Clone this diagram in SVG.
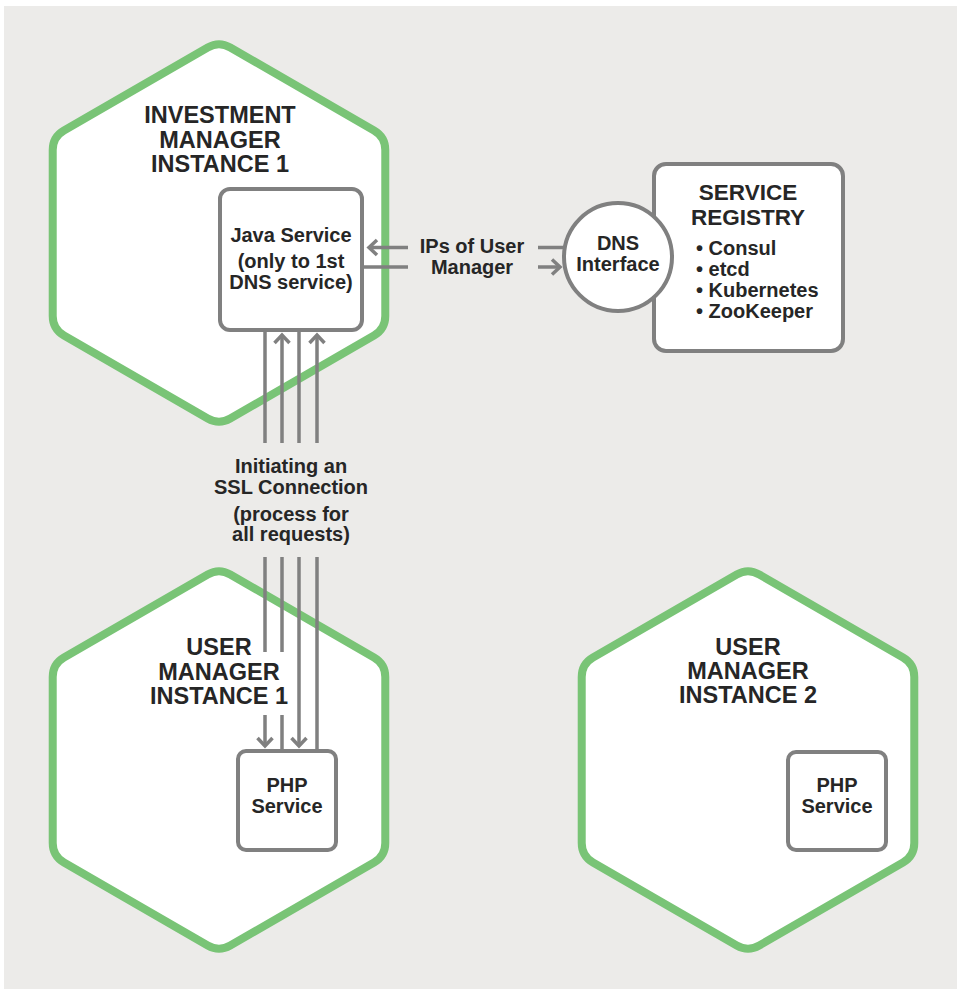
<svg xmlns="http://www.w3.org/2000/svg" width="957" height="989" viewBox="0 0 957 989">
  <style>
    .hex { fill: #ffffff; stroke: #79c476; stroke-width: 8; }
    .box { fill: #ffffff; stroke: #808080; stroke-width: 4; }
    .wire { fill: none; stroke: #808080; stroke-width: 3.5; }
    .t { font-family: "Liberation Sans", Arial, sans-serif; font-weight: bold; fill: #262626; }
    .title { font-size: 23.5px; text-anchor: middle; }
    .lbl { font-size: 20px; text-anchor: middle; }
    .item { font-size: 20px; text-anchor: start; }
  </style>
  <defs>
    <!-- pointy-top hexagon with rounded corners, centred on the origin -->
    <path id="hexShape" d="M 11.26,-185.5 L 155.02,-102.5 Q 166.28,-96 166.28,-83 L 166.28,83 Q 166.28,96 155.02,102.5 L 11.26,185.5 Q 0,192 -11.26,185.5 L -155.02,102.5 Q -166.28,96 -166.28,83 L -166.28,-83 Q -166.28,-96 -155.02,-102.5 L -11.26,-185.5 Q 0,-192 11.26,-185.5 Z"/>
    <marker id="chev" markerUnits="userSpaceOnUse" markerWidth="24" markerHeight="24" viewBox="-12 -12 24 24" refX="0" refY="0" orient="auto" overflow="visible">
      <path d="M -8,-7.5 L 0,0 L -8,7.5" fill="none" stroke="#808080" stroke-width="3.5"/>
    </marker>
  </defs>

  <!-- backdrop -->
  <rect x="4" y="6" width="953" height="983" fill="#ecebe9"/>

  <!-- hexagon instances -->
  <g id="investment-manager-1">
    <use href="#hexShape" class="hex" transform="translate(219,233)"/>
    <text class="t title" x="220" y="123">INVESTMENT</text>
    <text class="t title" x="220" y="148">MANAGER</text>
    <text class="t title" x="220" y="172">INSTANCE 1</text>
  </g>
  <g id="user-manager-1">
    <use href="#hexShape" class="hex" transform="translate(219,760)"/>
    <text class="t title" x="219" y="655">USER</text>
    <text class="t title" x="219" y="680">MANAGER</text>
    <text class="t title" x="219" y="704">INSTANCE 1</text>
  </g>
  <g id="user-manager-2">
    <use href="#hexShape" class="hex" transform="translate(748,760)"/>
    <text class="t title" x="748" y="655">USER</text>
    <text class="t title" x="748" y="679">MANAGER</text>
    <text class="t title" x="748" y="703">INSTANCE 2</text>
  </g>

  <!-- connectors -->
  <g id="connectors">
    <!-- Java service <-> DNS interface -->
    <path class="wire" d="M 572,247.5 L 538,247.5 M 408,247.5 L 369,247.5" marker-end="url(#chev)"/>
    <path class="wire" d="M 364,267 L 408,267 M 538,267 L 560,267" marker-end="url(#chev)"/>
    <!-- Java service <-> PHP service (SSL) -->
    <path class="wire" d="M 265,332 L 265,443 M 265,557 L 265,652 M 265,715 L 265,746" marker-end="url(#chev)"/>
    <path class="wire" d="M 282,749 L 282,715 M 282,652 L 282,557 M 282,443 L 282,335" marker-end="url(#chev)"/>
    <path class="wire" d="M 299,332 L 299,443 M 299,557 L 299,746" marker-end="url(#chev)"/>
    <path class="wire" d="M 317,749 L 317,557 M 317,443 L 317,335" marker-end="url(#chev)"/>
  </g>

  <!-- connector labels -->
  <g id="labels">
    <text class="t lbl" x="472" y="253">IPs of User</text>
    <text class="t lbl" x="472" y="274">Manager</text>
    <text class="t lbl" x="291" y="473">Initiating an</text>
    <text class="t lbl" x="291" y="494">SSL Connection</text>
    <text class="t lbl" x="291" y="521">(process for</text>
    <text class="t lbl" x="291" y="541">all requests)</text>
  </g>

  <g id="java-service">
    <rect class="box" x="220" y="189" width="142" height="141" rx="10"/>
    <text class="t lbl" x="291" y="242">Java Service</text>
    <text class="t lbl" x="291" y="268">(only to 1st</text>
    <text class="t lbl" x="291" y="289">DNS service)</text>
  </g>

  <g id="php-service-1">
    <rect class="box" x="238" y="751" width="98" height="99" rx="8"/>
    <text class="t lbl" x="287" y="792">PHP</text>
    <text class="t lbl" x="287" y="813">Service</text>
  </g>

  <g id="php-service-2">
    <rect class="box" x="788" y="752" width="98" height="98" rx="8"/>
    <text class="t lbl" x="837" y="792">PHP</text>
    <text class="t lbl" x="837" y="813">Service</text>
  </g>

  <g id="service-registry">
    <rect class="box" x="654" y="164" width="189" height="187" rx="12"/>
    <text class="t title" x="748" y="200" style="font-size:22.5px">SERVICE</text>
    <text class="t title" x="748" y="225" style="font-size:22.5px">REGISTRY</text>
    <text class="t item" x="696" y="255">• Consul</text>
    <text class="t item" x="696" y="276">• etcd</text>
    <text class="t item" x="696" y="297">• Kubernetes</text>
    <text class="t item" x="696" y="318">• ZooKeeper</text>
  </g>

  <g id="dns-interface">
    <circle class="box" cx="618" cy="257" r="54"/>
    <text class="t lbl" x="618" y="250">DNS</text>
    <text class="t lbl" x="618" y="271">Interface</text>
  </g>
</svg>
